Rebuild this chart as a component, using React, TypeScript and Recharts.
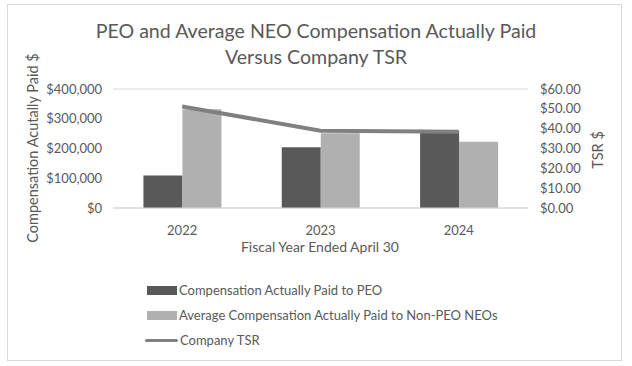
import React from 'react';
import { ComposedChart, Bar, Line, XAxis, YAxis, CartesianGrid } from 'recharts';

const YEARS = ['2022', '2023', '2024'];
const PEO_CAP = [109000, 204000, 259000];
const NEO_CAP = [332000, 251000, 223000];
const TSR = [51.2, 39.0, 38.5];
const LEFT_TICKS = [0, 100000, 200000, 300000, 400000];
const RIGHT_TICKS = [0, 10, 20, 30, 40, 50, 60];

const DARK = '#595959';
const LIGHT = '#b0b0b0';
const LINE = '#808080';
const TEXT = '#595959';
const FONT = 'Lato, "Open Sans", sans-serif';

const data = YEARS.map((year, i) => ({
  year,
  peo: PEO_CAP[i],
  neo: NEO_CAP[i],
  tsr: TSR[i],
}));

const money = (v: number) => '$' + v.toLocaleString('en-US');
const money2 = (v: number) => '$' + v.toFixed(2);

const LEGEND = [
  { label: 'Compensation Actually Paid to PEO', kind: 'bar', color: DARK },
  { label: 'Average Compensation Actually Paid to Non-PEO NEOs', kind: 'bar', color: LIGHT },
  { label: 'Company TSR', kind: 'line', color: LINE },
];

export default function App() {
  const tick = { fill: TEXT, fontSize: 13, fontFamily: FONT };
  return (
    <div
      style={{
        position: 'absolute',
        left: 0,
        top: 0,
        width: 632,
        height: 366,
        background: '#fff',
        fontFamily: FONT,
        color: TEXT,
      }}
    >
      <div
        style={{
          position: 'absolute',
          left: 7,
          top: 4,
          width: 613,
          height: 355,
          border: '1px solid #d9d9d9',
        }}
      />
      <div
        style={{
          position: 'absolute',
          left: 0,
          top: 18,
          width: 632,
          textAlign: 'center',
          fontSize: 19.6,
          lineHeight: '26px',
        }}
      >
        PEO and Average NEO Compensation Actually Paid
        <br />
        Versus Company TSR
      </div>

      <div style={{ position: 'absolute', left: 0, top: 0 }}>
        <ComposedChart
          width={632}
          height={366}
          data={data}
          margin={{ top: 89, right: 0, bottom: 128, left: 0 }}
          barGap={0}
          barCategoryGap="22%"
        >
          <CartesianGrid vertical={false} stroke="#d9d9d9" />
          <XAxis
            dataKey="year"
            axisLine={{ stroke: '#d9d9d9' }}
            tickLine={false}
            tick={tick}
            tickMargin={12}
            height={30}
          />
          <YAxis
            yAxisId="left"
            domain={[0, 400000]}
            ticks={LEFT_TICKS}
            interval={0}
            tickFormatter={money}
            axisLine={false}
            tickLine={false}
            tickSize={0}
            tickMargin={11}
            tick={tick}
            width={113}
          />
          <YAxis
            yAxisId="right"
            orientation="right"
            domain={[0, 60]}
            ticks={RIGHT_TICKS}
            interval={0}
            tickFormatter={money2}
            axisLine={false}
            tickLine={false}
            tickSize={0}
            tickMargin={12}
            tick={{ ...tick, textAnchor: 'start' }}
            width={104}
          />
          <Bar yAxisId="left" dataKey="peo" fill={DARK} isAnimationActive={false} />
          <Bar yAxisId="left" dataKey="neo" fill={LIGHT} isAnimationActive={false} />
          <Line
            yAxisId="right"
            dataKey="tsr"
            stroke={LINE}
            strokeWidth={4}
            dot={false}
            isAnimationActive={false}
          />
        </ComposedChart>
      </div>

      <div
        style={{
          position: 'absolute',
          left: 32,
          top: 148,
          transform: 'translate(-50%, -50%) rotate(-90deg)',
          whiteSpace: 'nowrap',
          fontSize: 14.5,
        }}
      >
        Compensation Acutally Paid $
      </div>
      <div
        style={{
          position: 'absolute',
          left: 597,
          top: 150,
          transform: 'translate(-50%, -50%) rotate(-90deg)',
          whiteSpace: 'nowrap',
          fontSize: 14.5,
        }}
      >
        TSR $
      </div>
      <div
        style={{
          position: 'absolute',
          left: 0,
          top: 238,
          width: 640,
          textAlign: 'center',
          fontSize: 14,
        }}
      >
        Fiscal Year Ended April 30
      </div>

      {LEGEND.map((item, i) => (
        <div
          key={item.label}
          style={{
            position: 'absolute',
            left: 145,
            top: 281 + i * 25,
            height: 18,
            display: 'flex',
            alignItems: 'center',
            fontSize: 13,
            whiteSpace: 'nowrap',
          }}
        >
          {item.kind === 'bar' ? (
            <span
              style={{ display: 'inline-block', width: 30, height: 9, background: item.color, marginLeft: 2 }}
            />
          ) : (
            <span
              style={{ display: 'inline-block', width: 33, height: 3, background: item.color, borderRadius: 2 }}
            />
          )}
          <span style={{ marginLeft: 2 }}>{item.label}</span>
        </div>
      ))}
    </div>
  );
}
